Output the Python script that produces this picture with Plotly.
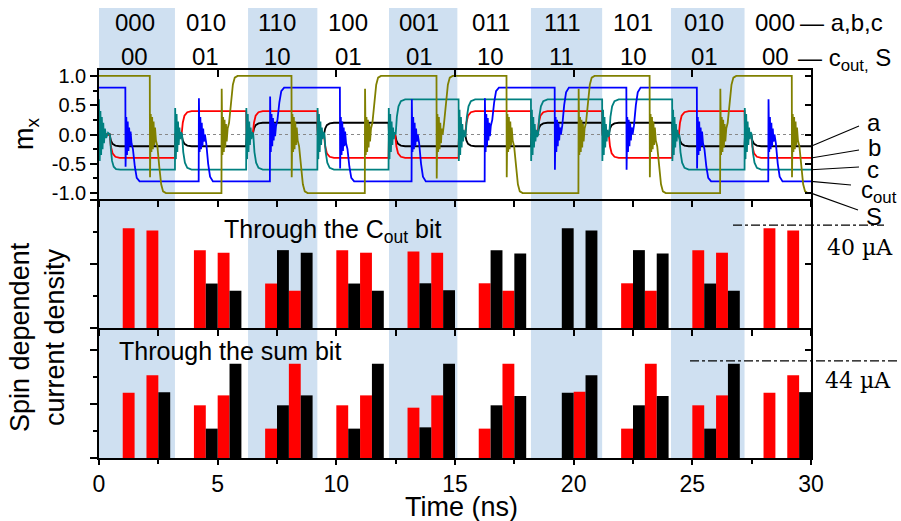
import plotly.graph_objects as go

# ---------------- data ----------------
slot_inputs = ["000", "010", "110", "100", "001", "011", "111", "101", "010", "000"]
slot_outputs = ["00", "01", "10", "01", "01", "10", "11", "10", "01", "00"]
slot_centers = [1.5, 4.5, 7.5, 10.5, 13.5, 16.5, 19.5, 22.5, 25.5, 28.5]
band_start = [0.0, 6.28, 12.22, 18.2, 24.1]
band_end = [3.2, 9.2, 15.1, 21.2, 27.2]

x_tick_vals = [0, 5, 10, 15, 20, 25, 30]
x_tick_text = ["0", "5", "10", "15", "20", "25", "30"]
m_tick_vals = [-1.0, -0.5, 0.0, 0.5, 1.0]
m_tick_text = ["-1.0", "-0.5", "0.0", "0.5", "1.0"]

# input magnets a (black) and b (red) share the time base
input_t = [0, 0.45, 0.5, 0.57, 0.69, 0.87,
           3.2, 3.22, 3.48, 3.53, 3.6, 3.72, 3.9,
           6.2, 6.22, 6.48, 6.53, 6.6, 6.72, 6.9,
           9.2, 9.22, 9.48, 9.53, 9.6, 9.72, 9.9,
           12.2, 12.22, 12.48, 12.53, 12.6, 12.72, 12.9,
           15.15, 15.17, 15.43, 15.48, 15.55, 15.67, 15.85,
           18.2, 18.22, 18.48, 18.53, 18.6, 18.72, 18.9,
           21.2, 21.22, 21.48, 21.53, 21.6, 21.72, 21.9,
           24.15, 24.17, 24.43, 24.48, 24.55, 24.67, 24.85,
           27.2, 27.22, 27.48, 27.53, 27.6, 27.72, 27.9,
           30]
a_m = [0, 0, -0.1, -0.16, -0.19, -0.2,
       -0.2, 0, 0, -0.1, -0.16, -0.19, -0.2,
       -0.2, 0, 0, 0.1, 0.16, 0.19, 0.2,
       0.2, 0, 0, 0.1, 0.16, 0.19, 0.2,
       0.2, 0, 0, -0.1, -0.16, -0.19, -0.2,
       -0.2, 0, 0, -0.1, -0.16, -0.19, -0.2,
       -0.2, 0, 0, 0.1, 0.16, 0.19, 0.2,
       0.2, 0, 0, 0.1, 0.16, 0.19, 0.2,
       0.2, 0, 0, -0.1, -0.16, -0.19, -0.2,
       -0.2, 0, 0, -0.1, -0.16, -0.19, -0.2,
       -0.2]
b_m = [0, 0, -0.2, -0.32, -0.38, -0.4,
       -0.4, 0, 0, 0.2, 0.32, 0.38, 0.4,
       0.4, 0, 0, 0.2, 0.32, 0.38, 0.4,
       0.4, 0, 0, -0.2, -0.32, -0.38, -0.4,
       -0.4, 0, 0, -0.2, -0.32, -0.38, -0.4,
       -0.4, 0, 0, 0.2, 0.32, 0.38, 0.4,
       0.4, 0, 0, 0.2, 0.32, 0.38, 0.4,
       0.4, 0, 0, -0.2, -0.32, -0.38, -0.4,
       -0.4, 0, 0, 0.2, 0.32, 0.38, 0.4,
       0.4, 0, 0, -0.2, -0.32, -0.38, -0.4,
       -0.4]

# input magnet c (teal)
c_t = [0, 0.03, 0.06, 0.09, 0.12, 0.15, 0.18, 0.21, 0.25, 0.3, 0.38, 0.46, 0.5, 0.55, 0.62, 0.72, 0.9,
       3.2, 3.21, 3.24, 3.27, 3.3, 3.33, 3.36, 3.39, 3.42, 3.46, 3.5, 3.55, 3.62, 3.72, 3.9,
       6.2, 6.21, 6.24, 6.27, 6.3, 6.33, 6.36, 6.39, 6.42, 6.46, 6.5, 6.55, 6.62, 6.72, 6.9,
       9.2, 9.21, 9.24, 9.27, 9.3, 9.33, 9.36, 9.39, 9.42, 9.46, 9.5, 9.55, 9.62, 9.72, 9.9,
       12.2, 12.21, 12.24, 12.27, 12.3, 12.33, 12.36, 12.39, 12.42, 12.46, 12.5, 12.55, 12.62, 12.72, 12.9,
       15.15, 15.16, 15.19, 15.22, 15.25, 15.28, 15.31, 15.34, 15.37, 15.41, 15.45, 15.5, 15.57, 15.67, 15.85,
       18.2, 18.21, 18.24, 18.27, 18.3, 18.33, 18.36, 18.39, 18.42, 18.46, 18.5, 18.55, 18.62, 18.72, 18.9,
       21.2, 21.21, 21.24, 21.27, 21.3, 21.33, 21.36, 21.39, 21.42, 21.46, 21.5, 21.55, 21.62, 21.72, 21.9,
       24.15, 24.16, 24.19, 24.22, 24.25, 24.28, 24.31, 24.34, 24.37, 24.41, 24.45, 24.5, 24.57, 24.67, 24.85,
       27.2, 27.21, 27.24, 27.27, 27.3, 27.33, 27.36, 27.39, 27.42, 27.46, 27.5, 27.55, 27.62, 27.72, 27.9,
       30]
c_m = [0.6, -0.45, 0.4, -0.35, 0.3, -0.25, 0.2, -0.15, 0.1, -0.06, 0.03, 0, -0.25, -0.45, -0.55, -0.59, -0.6,
       -0.6, 0.45, -0.42, 0.35, -0.3, 0.22, -0.18, 0.12, -0.08, 0.04, 0, -0.3, -0.48, -0.57, -0.6,
       -0.6, 0.45, -0.42, 0.35, -0.3, 0.22, -0.18, 0.12, -0.08, 0.04, 0, -0.3, -0.48, -0.57, -0.6,
       -0.6, 0.45, -0.42, 0.35, -0.3, 0.22, -0.18, 0.12, -0.08, 0.04, 0, -0.3, -0.48, -0.57, -0.6,
       -0.6, 0.45, -0.42, 0.35, -0.3, 0.22, -0.18, 0.12, -0.08, 0.04, 0, 0.3, 0.48, 0.57, 0.6,
       0.6, -0.45, 0.42, -0.35, 0.3, -0.22, 0.18, -0.12, 0.08, -0.04, 0, 0.3, 0.48, 0.57, 0.6,
       0.6, -0.45, 0.42, -0.35, 0.3, -0.22, 0.18, -0.12, 0.08, -0.04, 0, 0.3, 0.48, 0.57, 0.6,
       0.6, -0.45, 0.42, -0.35, 0.3, -0.22, 0.18, -0.12, 0.08, -0.04, 0, 0.3, 0.48, 0.57, 0.6,
       0.6, -0.45, 0.42, -0.35, 0.3, -0.22, 0.18, -0.12, 0.08, -0.04, 0, -0.3, -0.48, -0.57, -0.6,
       -0.6, 0.45, -0.42, 0.35, -0.3, 0.22, -0.18, 0.12, -0.08, 0.04, 0, -0.3, -0.48, -0.57, -0.6,
       -0.6]

# carry-out magnet (blue)
cout_t = [0,
          1.11, 1.12, 1.15, 1.18, 1.21, 1.24, 1.27, 1.3, 1.33, 1.37, 1.43, 1.51, 1.59, 1.71,
          4.2, 4.21, 4.24, 4.27, 4.3, 4.33, 4.36, 4.39, 4.42, 4.46, 4.52, 4.6, 4.68, 4.8,
          7.2, 7.21, 7.24, 7.27, 7.3, 7.33, 7.36, 7.39, 7.42, 7.46, 7.52, 7.6, 7.68, 7.8,
          10.15, 10.16, 10.19, 10.22, 10.25, 10.28, 10.31, 10.34, 10.37, 10.41, 10.47, 10.55, 10.63, 10.75,
          13.17, 13.18, 13.21, 13.24, 13.27, 13.3, 13.33, 13.36, 13.39, 13.43, 13.49, 13.57, 13.65, 13.77,
          16.25, 16.26, 16.29, 16.32, 16.35, 16.38, 16.41, 16.44, 16.47, 16.51, 16.57, 16.65, 16.73, 16.85,
          19.2, 19.21, 19.24, 19.27, 19.3, 19.33, 19.36, 19.39, 19.42, 19.46, 19.52, 19.6, 19.68, 19.8,
          22.22, 22.23, 22.26, 22.29, 22.32, 22.35, 22.38, 22.41, 22.44, 22.48, 22.54, 22.62, 22.7, 22.82,
          25.19, 25.2, 25.23, 25.26, 25.29, 25.32, 25.35, 25.38, 25.41, 25.45, 25.51, 25.59, 25.67, 25.79,
          28.2, 28.21, 28.24, 28.27, 28.3, 28.33, 28.36, 28.39, 28.42, 28.46, 28.52, 28.6, 28.68, 28.8,
          30]
cout_m = [0.8,
          0.8, -0.55, 0.3, -0.35, 0.22, -0.28, 0.12, -0.2, 0.05, -0.15, -0.25, -0.55, -0.74, -0.8,
          -0.8, 0.62, -0.3, 0.3, -0.25, 0.2, -0.2, 0.1, -0.12, 0.0, -0.15, -0.5, -0.72, -0.8,
          -0.8, 0.65, -0.3, 0.35, -0.2, 0.28, -0.1, 0.2, -0.03, 0.15, 0.25, 0.55, 0.74, 0.8,
          0.8, -0.58, 0.3, -0.35, 0.22, -0.28, 0.12, -0.2, 0.05, -0.15, -0.25, -0.55, -0.74, -0.8,
          -0.8, 0.6, -0.3, 0.3, -0.25, 0.2, -0.2, 0.1, -0.12, 0.0, -0.15, -0.5, -0.72, -0.8,
          -0.8, 0.62, -0.3, 0.35, -0.2, 0.28, -0.1, 0.2, -0.03, 0.15, 0.25, 0.55, 0.74, 0.8,
          0.8, -0.6, 0.3, -0.3, 0.25, -0.2, 0.2, -0.1, 0.12, 0.0, 0.15, 0.5, 0.72, 0.8,
          0.8, -0.6, 0.3, -0.3, 0.25, -0.2, 0.2, -0.1, 0.12, 0.0, 0.15, 0.5, 0.72, 0.8,
          0.8, -0.58, 0.3, -0.35, 0.22, -0.28, 0.12, -0.2, 0.05, -0.15, -0.25, -0.55, -0.74, -0.8,
          -0.8, 0.6, -0.3, 0.3, -0.25, 0.2, -0.2, 0.1, -0.12, 0.0, -0.15, -0.5, -0.72, -0.8,
          -0.8]

# sum magnet (olive)
s_t = [0,
       2.14, 2.15, 2.18, 2.21, 2.24, 2.27, 2.3, 2.33, 2.36, 2.4, 2.46, 2.54, 2.62, 2.7, 2.82,
       5.16, 5.17, 5.2, 5.23, 5.26, 5.29, 5.32, 5.35, 5.38, 5.42, 5.48, 5.56, 5.64, 5.72, 5.84,
       8.11, 8.12, 8.15, 8.18, 8.21, 8.24, 8.27, 8.3, 8.33, 8.37, 8.43, 8.51, 8.59, 8.67, 8.79,
       11.2, 11.21, 11.24, 11.27, 11.3, 11.33, 11.36, 11.39, 11.42, 11.46, 11.52, 11.6, 11.68, 11.76, 11.88,
       14.22, 14.23, 14.26, 14.29, 14.32, 14.35, 14.38, 14.41, 14.44, 14.48, 14.54, 14.62, 14.7, 14.78, 14.9,
       17.17, 17.18, 17.21, 17.24, 17.27, 17.3, 17.33, 17.36, 17.39, 17.43, 17.49, 17.57, 17.65, 17.73, 17.85,
       20.2, 20.21, 20.24, 20.27, 20.3, 20.33, 20.36, 20.39, 20.42, 20.46, 20.52, 20.6, 20.68, 20.76, 20.88,
       23.2, 23.21, 23.24, 23.27, 23.3, 23.33, 23.36, 23.39, 23.42, 23.46, 23.52, 23.6, 23.68, 23.76, 23.88,
       26.17, 26.18, 26.21, 26.24, 26.27, 26.3, 26.33, 26.36, 26.39, 26.43, 26.49, 26.57, 26.65, 26.73, 26.85,
       29.19, 29.2, 29.23, 29.26, 29.29, 29.32, 29.35, 29.38, 29.41, 29.45, 29.51, 29.59, 29.67, 29.75, 29.87,
       30]
s_m = [1.0,
       1.0, -0.73, 0.35, -0.3, 0.3, -0.25, 0.22, -0.18, 0.12, -0.1, -0.2, -0.55, -0.85, -0.97, -1.0,
       -1.0, 0.78, -0.35, 0.3, -0.3, 0.25, -0.22, 0.18, -0.12, 0.1, 0.2, 0.55, 0.85, 0.97, 1.0,
       1.0, -0.73, 0.35, -0.3, 0.3, -0.25, 0.22, -0.18, 0.12, -0.1, -0.2, -0.55, -0.85, -0.97, -1.0,
       -1.0, 0.78, -0.35, 0.3, -0.3, 0.25, -0.22, 0.18, -0.12, 0.1, 0.2, 0.55, 0.85, 0.97, 1.0,
       1.0, -0.75, 0.35, -0.3, 0.3, -0.25, 0.2, -0.15, 0.1, 0.0, 0.2, 0.55, 0.85, 0.97, 1.0,
       1.0, -0.73, 0.35, -0.3, 0.3, -0.25, 0.22, -0.18, 0.12, -0.1, -0.2, -0.55, -0.85, -0.97, -1.0,
       -1.0, 0.78, -0.35, 0.3, -0.3, 0.25, -0.22, 0.18, -0.12, 0.1, 0.2, 0.55, 0.85, 0.97, 1.0,
       1.0, -0.73, 0.35, -0.3, 0.3, -0.25, 0.22, -0.18, 0.12, -0.1, -0.2, -0.55, -0.85, -0.97, -1.0,
       -1.0, 0.78, -0.35, 0.3, -0.3, 0.25, -0.22, 0.18, -0.12, 0.1, 0.2, 0.55, 0.85, 0.97, 1.0,
       1.0, -0.73, 0.35, -0.3, 0.3, -0.25, 0.22, -0.18, 0.12, -0.1, -0.2, -0.55, -0.85, -0.97, -1.0,
       -1.0]

# current through the C_out bit (uA); x = start time of each 0.5 ns pulse
cout_red_x = [1.0, 2.0, 4.0, 5.0, 7.0, 8.0, 10.0, 11.0, 13.0, 14.0, 16.0, 17.0, 22.0, 23.0, 25.0, 26.0, 28.0, 29.0]
cout_red_y = [38.8, 37.9, 30.3, 29.3, 17.3, 14.5, 30.3, 29.3, 29.8, 29.3, 17.4, 14.5, 17.4, 14.5, 30.3, 29.3, 38.8, 37.9]
cout_blk_x = [4.5, 5.5, 7.5, 8.5, 10.5, 11.5, 13.5, 14.5, 16.5, 17.5, 19.5, 20.5, 22.5, 23.5, 25.5, 26.5]
cout_blk_y = [17.3, 14.5, 30.3, 29.3, 17.3, 14.5, 17.4, 14.7, 30.3, 29.0, 38.8, 37.9, 30.3, 29.0, 17.3, 14.5]

# current through the sum bit (uA)
sum_red_x = [1.0, 2.0, 4.0, 5.0, 7.0, 8.0, 10.0, 11.0, 13.0, 14.0, 16.0, 17.0, 20.0, 22.0, 23.0, 25.0, 26.0, 28.0, 29.0]
sum_red_y = [30.2, 38.3, 24.4, 29.0, 13.6, 43.7, 24.4, 29.0, 23.3, 29.0, 13.6, 43.7, 30.7, 13.6, 43.7, 24.4, 29.0, 30.2, 38.3]
sum_blk_x = [2.5, 4.5, 5.5, 7.5, 8.5, 10.5, 11.5, 13.5, 14.5, 16.5, 17.5, 19.5, 20.5, 22.5, 23.5, 25.5, 26.5, 29.5]
sum_blk_y = [30.5, 13.6, 43.7, 24.4, 29.0, 13.6, 43.7, 14.2, 43.7, 24.4, 28.7, 30.2, 38.3, 24.4, 28.7, 13.6, 43.7, 30.5]

ref_cout = 40.0   # uA reference line, middle panel
ref_sum = 45.0    # uA reference line, bottom panel

# ---------------- layout helpers ----------------
W, H = 901, 521
PL, PR, PT, PB = 99, 811, 70, 458
SPLIT1, SPLIT2 = 199, 328
FONT = "Liberation Sans, Arial, sans-serif"
SERIF = "DejaVu Serif, serif"


def px_x(px):
    return (px - PL) / (PR - PL)


def px_y(py):
    return (PB - py) / (PB - PT)


d_top0 = px_y(SPLIT1)
d_mid0 = px_y(SPLIT2)
M_RANGE = [-1.1, 1.1]


def m_to_paper(m):
    return d_top0 + (m - M_RANGE[0]) / (M_RANGE[1] - M_RANGE[0]) * (1 - d_top0)


def text(x, y, s, size=24, family=FONT, xref="paper", yref="paper", xanchor="center", yanchor="middle", angle=0):
    return dict(x=x, y=y, xref=xref, yref=yref, text=s, showarrow=False, xanchor=xanchor, yanchor=yanchor,
                textangle=angle, font=dict(size=size, family=family, color="black"))


fig = go.Figure()

# zero reference line in top panel
fig.add_trace(go.Scatter(x=[0, 30], y=[0, 0], mode="lines", xaxis="x3", yaxis="y3",
                         line=dict(color="#888888", width=1, dash="dot"), hoverinfo="skip"))

curves = [(input_t, a_m, "#000000"), (input_t, b_m, "#ff0000"), (c_t, c_m, "#008080"),
          (cout_t, cout_m, "#0000ff"), (s_t, s_m, "#808000")]
for tt, mm, col in curves:
    fig.add_trace(go.Scatter(x=tt, y=mm, mode="lines", xaxis="x3", yaxis="y3",
                             line=dict(color=col, width=1.8), hoverinfo="skip"))

for xs, ys, col, xa, ya in [(cout_red_x, cout_red_y, "#ff0000", "x2", "y2"),
                            (cout_blk_x, cout_blk_y, "#000000", "x2", "y2"),
                            (sum_red_x, sum_red_y, "#ff0000", "x", "y"),
                            (sum_blk_x, sum_blk_y, "#000000", "x", "y")]:
    fig.add_trace(go.Bar(x=xs, y=ys, width=0.5, offset=0, marker=dict(color=col, line=dict(width=0)),
                         xaxis=xa, yaxis=ya, hoverinfo="skip"))

# dummy traces so the overlay (frame/tick) axes are drawn
for xa, ya in [("x4", "y3"), ("x3", "y4"), ("x2", "y5"), ("x", "y6")]:
    fig.add_trace(go.Scatter(x=[None], y=[None], xaxis=xa, yaxis=ya, mode="markers", hoverinfo="skip"))

shapes = []
for x0, x1 in zip(band_start, band_end):
    shapes.append(dict(type="rect", xref="x", yref="paper", x0=x0, x1=x1, y0=0, y1=px_y(8),
                       fillcolor="#cfe0f1", line=dict(width=0), layer="below"))

# reference current lines
shapes.append(dict(type="line", xref="paper", yref="y2", x0=px_x(733), x1=px_x(884), y0=ref_cout, y1=ref_cout,
                   line=dict(color="black", width=1.3, dash="dashdot")))
shapes.append(dict(type="line", xref="paper", yref="y", x0=px_x(690), x1=px_x(898), y0=ref_sum, y1=ref_sum,
                   line=dict(color="black", width=1.3, dash="dashdot")))

# leader lines to curve labels
leader_ends = [(a_m[-1], 859, 126), (b_m[-1], 859, 150), (c_m[-1], 859, 167),
               (cout_m[-1], 851, 185), (s_m[-1], 858, 210)]
for m_end, ex, ey in leader_ends:
    shapes.append(dict(type="line", xref="paper", yref="paper", x0=1.0, y0=m_to_paper(m_end),
                       x1=px_x(ex), y1=px_y(ey), line=dict(color="black", width=1.1)))

ann = []
for cx, s_in, s_out in zip(slot_centers, slot_inputs, slot_outputs):
    ann.append(text(cx, px_y(23), s_in, xref="x3"))
    ann.append(text(cx, px_y(57), s_out, xref="x3"))
ann.append(text(px_x(798), px_y(23), "— a,b,c", xanchor="left"))
ann.append(text(px_x(796), px_y(59), "— c<sub>out,</sub> S", xanchor="left"))

for txt, lx, ly in [("a", 874, 123), ("b", 874, 147), ("c", 873, 169), ("c<sub>out</sub>", 879, 191), ("S", 874, 216)]:
    ann.append(text(px_x(lx), px_y(ly), txt))

ann.append(text(px_x(860), 31.5, "40 µA", size=22, family=SERIF, yref="y2"))
ann.append(text(px_x(858), 36.0, "44 µA", size=22, family=SERIF, yref="y"))

ann.append(text(px_x(222), px_y(231), "Through the C<sub>out</sub> bit", size=25, xanchor="left"))
ann.append(text(px_x(117), px_y(351), "Through the sum bit", size=25, xanchor="left"))

ann.append(text(px_x(26), px_y(134), "m<sub>x</sub>", size=27, angle=-90))
ann.append(text(px_x(37), px_y(337), "Spin dependent<br>current density", size=27, angle=-90))
ann.append(text(px_x(461), px_y(507), "Time (ns)", size=27))

AX = dict(showline=True, linecolor="black", linewidth=1.5, tickcolor="black", tickwidth=1.5,
          showgrid=False, zeroline=False)

fig.update_layout(
    width=W, height=H, showlegend=False, barmode="overlay",
    margin=dict(l=PL, r=W - PR, t=PT, b=H - PB, pad=0),
    paper_bgcolor="white", plot_bgcolor="rgba(0,0,0,0)",
    shapes=shapes, annotations=ann,
    xaxis=dict(**AX, anchor="y", domain=[0, 1], range=[0, 30], ticks="outside", ticklen=5,
               tickvals=x_tick_vals, ticktext=x_tick_text,
               tickfont=dict(size=23, family=FONT, color="black"),
               minor=dict(ticks="outside", tick0=0, dtick=2.5, ticklen=4, tickwidth=1.5, tickcolor="black")),
    xaxis2=dict(**AX, anchor="y2", domain=[0, 1], range=[0, 30], ticks="outside", ticklen=6,
                tick0=0, dtick=2.5, showticklabels=False),
    xaxis3=dict(**AX, anchor="y3", domain=[0, 1], range=[0, 30], ticks="outside", ticklen=6,
                tick0=0, dtick=2.5, showticklabels=False),
    xaxis4=dict(**AX, anchor="y3", overlaying="x3", side="top", range=[0, 30], ticks="inside", ticklen=7,
                tick0=0, dtick=5, showticklabels=False),
    yaxis=dict(**AX, anchor="x", domain=[0, d_mid0], range=[0, 60.2], ticks="outside", ticklen=7,
               tickvals=[0, 25, 50], showticklabels=False,
               minor=dict(ticks="outside", tick0=0, dtick=12.5, ticklen=4, tickwidth=1.5, tickcolor="black")),
    yaxis2=dict(**AX, anchor="x2", domain=[d_mid0, d_top0], range=[0, 50.2], ticks="outside", ticklen=7,
                tickvals=[0, 25, 50], showticklabels=False,
                minor=dict(ticks="outside", tick0=0, dtick=12.5, ticklen=4, tickwidth=1.5, tickcolor="black")),
    yaxis3=dict(**AX, anchor="x3", domain=[d_top0, 1], range=M_RANGE, ticks="outside", ticklen=7,
                tickvals=m_tick_vals, ticktext=m_tick_text,
                tickfont=dict(size=20, family=FONT, color="black"),
                minor=dict(ticks="outside", tick0=0, dtick=0.25, ticklen=4, tickwidth=1.5, tickcolor="black")),
    yaxis4=dict(**AX, anchor="x3", overlaying="y3", side="right", range=M_RANGE, ticks="inside", ticklen=6,
                tickvals=m_tick_vals, showticklabels=False),
    yaxis5=dict(**AX, anchor="x2", overlaying="y2", side="right", range=[0, 50.2], ticks="inside", ticklen=6,
                tickvals=[25], showticklabels=False),
    yaxis6=dict(**AX, anchor="x", overlaying="y", side="right", range=[0, 60.2], ticks="inside", ticklen=6,
                tickvals=[50], showticklabels=False),
)

fig.write_html("out.html")
